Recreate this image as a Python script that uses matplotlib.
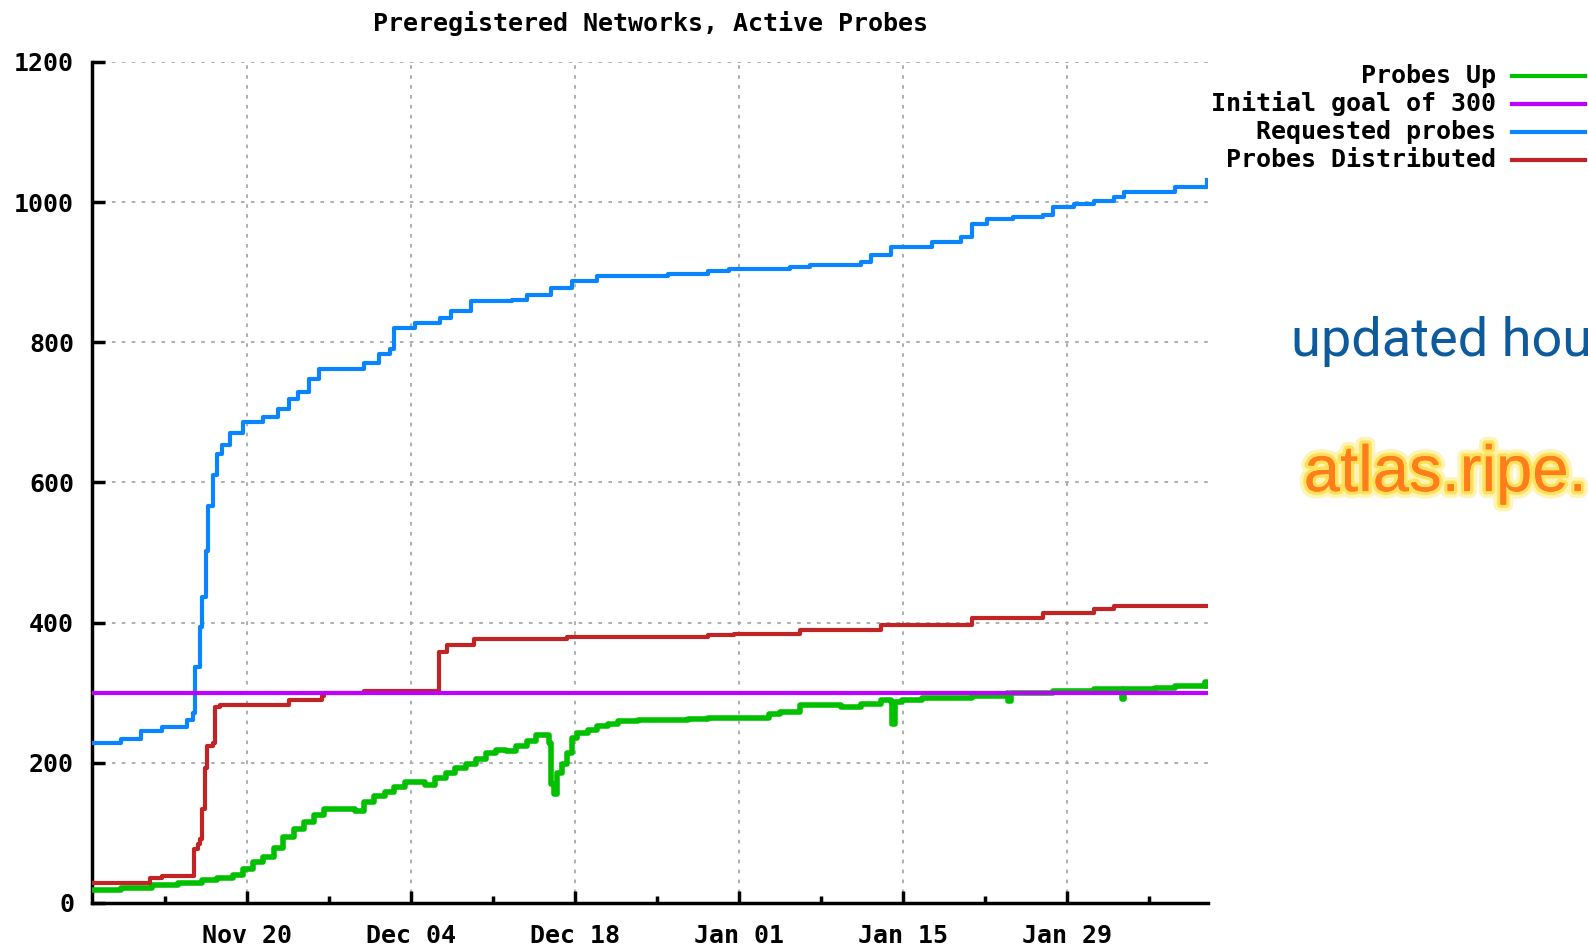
import numpy as np
import pandas as pd
import matplotlib
matplotlib.use('Agg')
import matplotlib.pyplot as plt
import matplotlib.dates as mdates
import matplotlib.patheffects as pe
from matplotlib.lines import Line2D

# dias desde el borde izquierdo del grafico (6 nov 2010, 18:00)
inicio = pd.Timestamp('2010-11-06 18:00')
fin_dias = 95.25

dias_req = [0, 2.5, 4.2, 6.0, 7.5, 8.1, 8.6, 8.8, 9.2, 9.4, 9.7, 9.9, 10.3, 10.7, 11.1, 11.8, 12.9,
            14.6, 15.9, 16.8, 17.6, 18.5, 19.4, 21.5, 23.2, 24.5, 25.4, 25.8, 27.6, 29.7, 30.6, 32.3,
            35.8, 37.1, 39.2, 41.0, 43.1, 46.6, 49.2, 52.6, 54.4, 59.6, 61.3, 65.6, 66.5, 68.2, 71.7,
            74.2, 75.1, 76.4, 78.6, 81.2, 82.0, 83.8, 85.5, 87.2, 88.1, 92.4, 95.2]
requeridas = [228, 234, 245, 251, 251, 261, 271, 336, 394, 437, 502, 567, 611, 640, 654, 671, 686,
              694, 705, 719, 729, 748, 762, 762, 770, 784, 791, 820, 827, 835, 845, 859,
              861, 868, 878, 888, 894, 895, 898, 902, 905, 907, 911, 915, 924, 936, 943,
              950, 969, 976, 979, 982, 993, 998, 1001, 1008, 1015, 1022, 1032]

dias_dist = [0, 4.9, 6.0, 8.7, 9.0, 9.2, 9.4, 9.6, 9.8, 10.3, 10.5, 10.9, 16.8, 19.6, 19.8, 23.2,
             26.7, 29.6, 30.3, 32.6, 40.5, 52.6, 54.8, 60.4, 67.3, 75.1, 81.2, 85.5, 87.2, 95.2]
distribuidas = [29, 36, 39, 77, 84, 91, 134, 192, 224, 228, 279, 283, 290, 295, 299, 302,
                303, 358, 368, 377, 380, 383, 384, 390, 396, 406, 414, 419, 424, 424]

dias_up = [0, 2.5, 5.1, 7.3, 9.4, 10.7, 12.0, 12.9, 13.7, 14.6, 15.5, 16.3, 17.2, 18.1, 18.9, 19.8,
           21.1, 22.4, 23.2, 24.1, 25.0, 25.8, 26.7, 27.6, 28.4, 29.3, 30.2, 31.0, 31.9, 32.8, 33.6,
           34.5, 35.3, 36.2, 37.1, 37.9, 38.6, 39.0, 39.2, 39.4, 39.7, 40.1, 40.5, 41.0, 41.4, 42.3,
           43.1, 44.0, 44.9, 46.6, 48.3, 50.9, 52.6, 56.1, 57.8, 58.7, 60.4, 62.2, 63.9, 65.6, 67.3,
           68.2, 68.3, 68.5, 69.1, 70.8, 73.4, 75.1, 76.8, 78.1, 78.2, 78.4, 80.3, 82.0, 83.8, 85.5,
           87.2, 87.9, 88.1, 90.7, 92.4, 94.1, 95.0, 95.2]
activas = [19, 22, 26, 29, 33, 36, 40, 48, 58, 66, 79, 94, 105, 116, 126, 134,
           134, 131, 144, 153, 159, 166, 172, 172, 169, 178, 185, 192, 199, 206, 214,
           218, 217, 224, 231, 240, 240, 228, 170, 156, 185, 199, 214, 235, 243, 247,
           253, 256, 260, 261, 261, 263, 264, 264, 270, 273, 282, 282, 279, 284, 289,
           287, 256, 287, 290, 293, 293, 296, 296, 300, 288, 300, 300, 302, 302, 305,
           305, 291, 306, 307, 309, 310, 315, 310]

meta = 300

etiquetas = ['Probes Up', 'Initial goal of 300', 'Requested probes', 'Probes Distributed']
colores = ['#00c000', '#c000ff', '#0a85ff', '#c02424']


def a_fechas(dias):
    return inicio + pd.to_timedelta(np.array(dias), unit='D')


fuente = dict(family='DejaVu Sans Mono', weight='bold', size=18)

fig = plt.figure(figsize=(15.88, 9.48), dpi=100, facecolor='white')
ax = fig.add_axes([0.058, 0.0475, 0.7027, 0.8871])

ax.plot(a_fechas(dias_up), activas, color=colores[0], lw=4, drawstyle='steps-post', zorder=3)
ax.axhline(meta, color=colores[1], lw=3, zorder=4)
ax.plot(a_fechas(dias_req), requeridas, color=colores[2], lw=3, drawstyle='steps-post', zorder=3)
ax.plot(a_fechas(dias_dist), distribuidas, color=colores[3], lw=3, drawstyle='steps-post', zorder=3)

ax.set_xlim(inicio, inicio + pd.Timedelta(days=fin_dias))
ax.set_ylim(0, 1200)
ax.set_yticks(np.arange(0, 1201, 200))

mayores = pd.date_range('2010-11-20', periods=6, freq='14D')
menores = pd.date_range('2010-11-13', periods=7, freq='14D')
ax.xaxis.set_major_locator(matplotlib.ticker.FixedLocator(mdates.date2num(mayores)))
ax.xaxis.set_minor_locator(matplotlib.ticker.FixedLocator(mdates.date2num(menores)))
ax.xaxis.set_major_formatter(mdates.DateFormatter('%b %d'))

ax.spines['top'].set_visible(False)
ax.spines['right'].set_visible(False)
ax.spines['left'].set_linewidth(2.5)
ax.spines['bottom'].set_linewidth(2.5)
ax.tick_params(axis='both', which='major', direction='in', length=9, width=2.5, top=False, right=False)
ax.tick_params(axis='x', which='minor', direction='in', length=5, width=2.5, top=False)
ax.tick_params(axis='y', pad=13)
ax.tick_params(axis='x', pad=15)
for lab in ax.get_xticklabels() + ax.get_yticklabels():
    lab.set_fontproperties(matplotlib.font_manager.FontProperties(**fuente))

ax.grid(True, which='major', color='#a8a8a8', linestyle=(0, (2, 3.5)), lw=1.3)
ax.set_title('Preregistered Networks, Active Probes', pad=22, **fuente)

# leyenda a la derecha, fuera de los ejes
for i, (txt, col) in enumerate(zip(etiquetas, colores)):
    yy = 0.920 - i * 0.0297
    fig.text(0.942, yy, txt, ha='right', va='center', **fuente)
    fig.add_artist(Line2D([0.952, 0.998], [yy, yy], transform=fig.transFigure, color=col, lw=3))

fig.text(0.813, 0.624, 'updated hou', color='#0d5a9c', family='Roboto', weight='normal', size=39)
fig.text(0.821, 0.482, 'atlas.ripe.', color='#ff7d1a', family='Liberation Sans', size=47,
         path_effects=[pe.withStroke(linewidth=10, foreground='#fff4b8'),
                       pe.withStroke(linewidth=5, foreground='#ffe25a'),
                       pe.Normal()])

fig.savefig('out.png', dpi=100, facecolor='white')
